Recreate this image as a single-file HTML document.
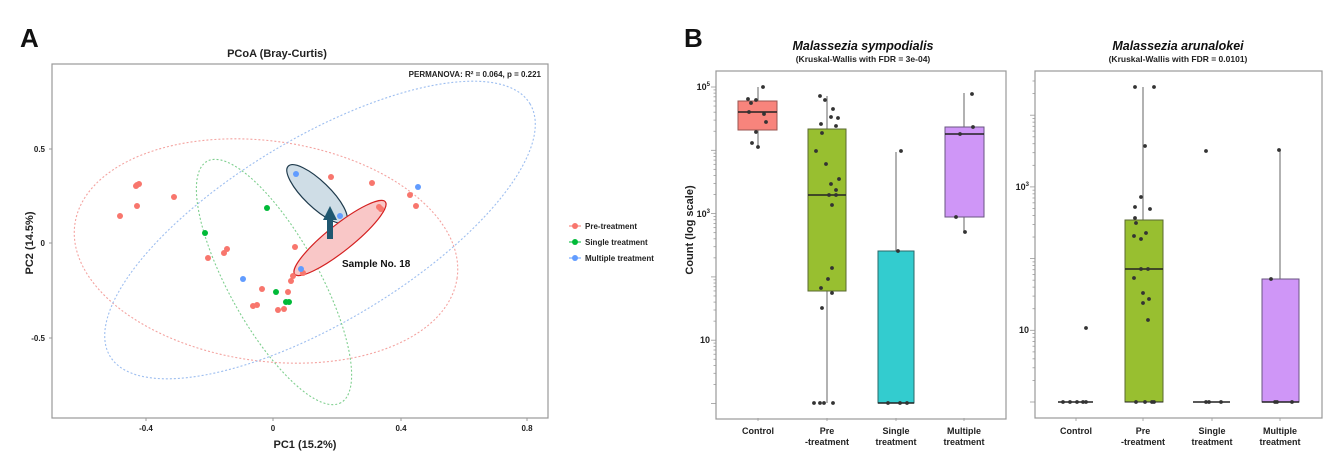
<!DOCTYPE html>
<html><head><meta charset="utf-8"><style>
html,body{margin:0;padding:0;background:#fff;}
svg{display:block;font-family:"Liberation Sans",Arial,sans-serif;}
</style></head><body>
<svg id="s" width="1332" height="466" viewBox="0 0 1332 466" xmlns="http://www.w3.org/2000/svg">
<rect width="1332" height="466" fill="#fff"/>
<!-- Panel A -->
<text x="20" y="47" font-size="26" font-weight="bold" fill="#111">A</text>
<text x="277" y="57" font-size="11" font-weight="bold" text-anchor="middle" fill="#222">PCoA (Bray-Curtis)</text>
<rect x="52" y="64" width="496" height="354" fill="none" stroke="#999" stroke-width="1.2"/>
<text x="541" y="77" font-size="8" font-weight="bold" text-anchor="end" fill="#222">PERMANOVA: R² = 0.064, p = 0.221</text>
<g fill="none" stroke-dasharray="2,2" stroke-width="1.1">
<ellipse cx="266" cy="251" rx="193" ry="110" transform="rotate(8 266 251)" stroke="#F4A3A0"/>
<ellipse cx="320" cy="230" rx="245" ry="92" transform="rotate(-31 320 230)" stroke="#9DBEF0"/>
<ellipse cx="274" cy="282" rx="138" ry="45" transform="rotate(61 274 282)" stroke="#7FCF8F"/>
</g>
<ellipse cx="317" cy="194" rx="40" ry="13" transform="rotate(44 317 194)" fill="#CFDDE6" stroke="#1E3A4C" stroke-width="1.2"/>
<ellipse cx="340" cy="238" rx="58" ry="13" transform="rotate(-38.6 340 238)" fill="#F9C7C7" stroke="#D42020" stroke-width="1.2"/>
<g fill="#F8766D">
<circle cx="137" cy="185" r="3"/><circle cx="139" cy="184" r="3"/><circle cx="136" cy="186" r="3"/>
<circle cx="137" cy="206" r="3"/><circle cx="120" cy="216" r="3"/><circle cx="174" cy="197" r="3"/>
<circle cx="208" cy="258" r="3"/><circle cx="224" cy="253" r="3"/><circle cx="227" cy="249" r="3"/>
<circle cx="295" cy="247" r="3"/><circle cx="331" cy="177" r="3"/><circle cx="372" cy="183" r="3"/>
<circle cx="410" cy="195" r="3"/><circle cx="416" cy="206" r="3"/><circle cx="379" cy="207" r="3"/><circle cx="381" cy="209" r="3"/>
<circle cx="303" cy="273" r="3"/><circle cx="293" cy="276" r="3"/><circle cx="291" cy="281" r="3"/>
<circle cx="288" cy="292" r="3"/><circle cx="262" cy="289" r="3"/><circle cx="253" cy="306" r="3"/>
<circle cx="257" cy="305" r="3"/><circle cx="278" cy="310" r="3"/><circle cx="284" cy="309" r="3"/>
</g>
<g fill="#00BA38">
<circle cx="267" cy="208" r="3"/><circle cx="205" cy="233" r="3"/><circle cx="276" cy="292" r="3"/>
<circle cx="286" cy="302" r="3"/><circle cx="289" cy="302" r="3"/>
</g>
<g fill="#619CFF">
<circle cx="296" cy="174" r="3"/><circle cx="340" cy="216" r="3"/><circle cx="418" cy="187" r="3"/>
<circle cx="243" cy="279" r="3"/><circle cx="301" cy="269" r="3"/>
</g>
<polygon points="327,239 333,239 333,220 337,220 330,206 323,220 327,220" fill="#1F5770"/>
<text x="342" y="267" font-size="10" font-weight="bold" fill="#111">Sample No. 18</text>
<g font-size="8" font-weight="bold" fill="#222">
<text x="45" y="152" text-anchor="end">0.5</text>
<text x="45" y="246" text-anchor="end">0</text>
<text x="45" y="341" text-anchor="end">-0.5</text>
<text x="146" y="431" text-anchor="middle">-0.4</text>
<text x="273" y="431" text-anchor="middle">0</text>
<text x="401" y="431" text-anchor="middle">0.4</text>
<text x="527" y="431" text-anchor="middle">0.8</text>
</g>
<g stroke="#999" stroke-width="1">
<line x1="49" y1="149" x2="52" y2="149"/><line x1="49" y1="243" x2="52" y2="243"/><line x1="49" y1="338" x2="52" y2="338"/>
<line x1="146" y1="418" x2="146" y2="421"/><line x1="273" y1="418" x2="273" y2="421"/><line x1="401" y1="418" x2="401" y2="421"/><line x1="527" y1="418" x2="527" y2="421"/>
</g>
<text x="305" y="448" font-size="11" font-weight="bold" text-anchor="middle" fill="#222">PC1 (15.2%)</text>
<text transform="translate(33 243) rotate(-90)" font-size="11" font-weight="bold" text-anchor="middle" fill="#222">PC2 (14.5%)</text>
<g font-size="8" font-weight="bold" fill="#222">
<line x1="569" y1="226" x2="581" y2="226" stroke="#F8766D"/><circle cx="575" cy="226" r="3" fill="#F8766D"/><text x="585" y="229">Pre-treatment</text>
<line x1="569" y1="242" x2="581" y2="242" stroke="#00BA38"/><circle cx="575" cy="242" r="3" fill="#00BA38"/><text x="585" y="245">Single treatment</text>
<line x1="569" y1="258" x2="581" y2="258" stroke="#619CFF"/><circle cx="575" cy="258" r="3" fill="#619CFF"/><text x="585" y="261">Multiple treatment</text>
</g>

<!-- Panel B -->
<text x="684" y="47" font-size="26" font-weight="bold" fill="#111">B</text>
<text x="863" y="50" font-size="12.5" font-weight="bold" font-style="italic" text-anchor="middle" fill="#111">Malassezia sympodialis</text>
<text x="863" y="62" font-size="8.5" font-weight="bold" text-anchor="middle" fill="#222">(Kruskal-Wallis with FDR = 3e-04)</text>
<text x="1178" y="50" font-size="12.5" font-weight="bold" font-style="italic" text-anchor="middle" fill="#111">Malassezia arunalokei</text>
<text x="1178" y="62" font-size="8.5" font-weight="bold" text-anchor="middle" fill="#222">(Kruskal-Wallis with FDR = 0.0101)</text>
<rect x="716" y="71" width="290" height="348" fill="none" stroke="#999" stroke-width="1.2"/>
<rect x="1035" y="71" width="287" height="347" fill="none" stroke="#999" stroke-width="1.2"/>
<g id="ticks" stroke="#999" stroke-width="0.8"></g>
<text transform="translate(693 230) rotate(-90)" font-size="11" font-weight="bold" text-anchor="middle" fill="#222">Count (log scale)</text>
<g font-size="9" font-weight="bold" fill="#222" text-anchor="end">
<text x="710" y="90">10<tspan font-size="6" dy="-4">5</tspan></text>
<text x="710" y="217">10<tspan font-size="6" dy="-4">3</tspan></text>
<text x="710" y="343">10</text>
<text x="1029" y="190">10<tspan font-size="6" dy="-4">3</tspan></text>
<text x="1029" y="333">10</text>
</g>
<!-- whiskers -->
<g stroke="#999" stroke-width="1.5">
<line x1="758" y1="87" x2="758" y2="147"/>
<line x1="827" y1="96" x2="827" y2="403"/>
<line x1="896" y1="152" x2="896" y2="403"/>
<line x1="964" y1="93" x2="964" y2="232"/>
<line x1="1143" y1="87" x2="1143" y2="402"/>
<line x1="1280" y1="150" x2="1280" y2="402"/>
</g>
<!-- boxes -->
<rect x="738" y="101" width="39" height="29" fill="#F8847C" stroke="#9a5550" stroke-width="1"/>
<line x1="738" y1="112" x2="777" y2="112" stroke="#222" stroke-width="1.5"/>
<rect x="808" y="129" width="38" height="162" fill="#98BF30" stroke="#5a6a30" stroke-width="1"/>
<line x1="808" y1="195" x2="846" y2="195" stroke="#222" stroke-width="1.5"/>
<rect x="878" y="251" width="36" height="152" fill="#33CCCF" stroke="#2a6a6a" stroke-width="1"/>
<line x1="878" y1="403" x2="914" y2="403" stroke="#222" stroke-width="1.5"/>
<rect x="945" y="127" width="39" height="90" fill="#CF96F7" stroke="#6a5580" stroke-width="1"/>
<line x1="945" y1="134" x2="984" y2="134" stroke="#222" stroke-width="1.5"/>
<line x1="1058" y1="402" x2="1093" y2="402" stroke="#222" stroke-width="1.5"/>
<rect x="1125" y="220" width="38" height="182" fill="#98BF30" stroke="#5a6a30" stroke-width="1"/>
<line x1="1125" y1="269" x2="1163" y2="269" stroke="#222" stroke-width="1.5"/>
<line x1="1125" y1="402" x2="1163" y2="402" stroke="#222" stroke-width="1"/>
<line x1="1193" y1="402" x2="1230" y2="402" stroke="#222" stroke-width="1.5"/>
<rect x="1262" y="279" width="37" height="123" fill="#CF96F7" stroke="#6a5580" stroke-width="1"/>
<line x1="1262" y1="402" x2="1299" y2="402" stroke="#222" stroke-width="1.5"/>
<g fill="#333" id="pts"></g>
<g font-size="9" font-weight="bold" fill="#222" text-anchor="middle">
<text x="758" y="434">Control</text>
<text x="827" y="434">Pre</text><text x="827" y="445">-treatment</text>
<text x="896" y="434">Single</text><text x="896" y="445">treatment</text>
<text x="964" y="434">Multiple</text><text x="964" y="445">treatment</text>
<text x="1076" y="434">Control</text>
<text x="1143" y="434">Pre</text><text x="1143" y="445">-treatment</text>
<text x="1212" y="434">Single</text><text x="1212" y="445">treatment</text>
<text x="1280" y="434">Multiple</text><text x="1280" y="445">treatment</text>
</g>
</svg>
<script>
var NS="http://www.w3.org/2000/svg";
function el(p,t,a){var e=document.createElementNS(NS,t);for(var k in a)e.setAttribute(k,a[k]);p.appendChild(e);return e;}
var tg=document.getElementById("ticks");
function axis(x,y0,dec,top,bot,maxd){
 for(var d=0;d<=maxd;d++){for(var m=1;m<=9;m++){var y=y0-(d+Math.log10(m))*dec;if(y<top||y>bot)continue;
  var L=(m==1)?5:2.5;el(tg,"line",{x1:x-L,y1:y,x2:x,y2:y});}}
 el(tg,"line",{x1:x,y1:top,x2:x,y2:bot});
}
axis(716,403.5,63.3,75,412,5);
axis(1035,402,71.7,75,412,4);
[758,827,896,964,1076,1143,1212,1280].forEach(function(x){el(tg,"line",{x1:x,y1:418,x2:x,y2:421});});
var P=[[763,87],[748,99],[751,103],[756,100],[749,112],[764,114],[766,122],[756,132],[752,143],[758,147],
[820,96],[825,100],[833,109],[821,124],[831,117],[838,118],[836,126],[822,133],[816,151],[826,164],[839,179],[831,184],[836,190],[829,195],[836,195],[832,205],[832,268],[828,279],[821,288],[832,293],[822,308],[814,403],[820,403],[824,403],[833,403],
[901,151],[898,251],[888,403],[900,403],[907,403],
[972,94],[973,127],[960,134],[956,217],[965,232],
[1063,402],[1070,402],[1077,402],[1083,402],[1086,402],[1086,328],
[1135,87],[1154,87],[1145,146],[1141,197],[1135,207],[1150,209],[1135,218],[1136,223],[1146,233],[1134,236],[1141,239],[1141,269],[1148,269],[1134,278],[1143,293],[1149,299],[1143,303],[1148,320],[1136,402],[1145,402],[1152,402],[1154,402],
[1206,151],[1206,402],[1209,402],[1221,402],
[1279,150],[1271,279],[1275,402],[1277,402],[1292,402]];
var pg=document.getElementById("pts");
P.forEach(function(p){el(pg,"circle",{cx:p[0],cy:p[1],r:1.9});});
</script>
</body></html>
